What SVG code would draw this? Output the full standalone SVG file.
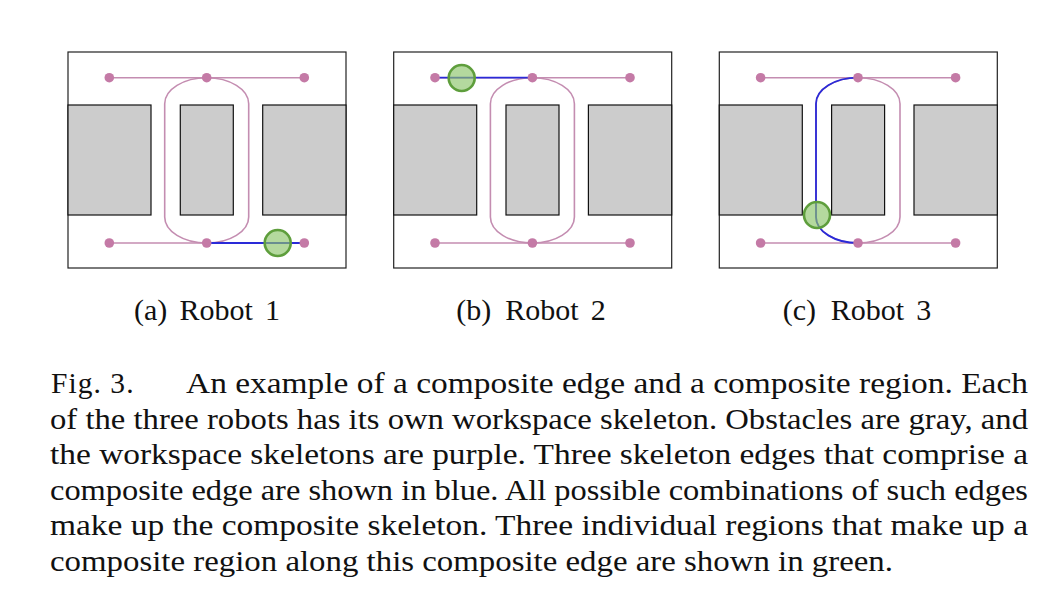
<svg xmlns="http://www.w3.org/2000/svg" xmlns:xlink="http://www.w3.org/1999/xlink" width="1060" height="612" viewBox="0 0 1060 612">
<style>
.frame{fill:#ffffff;stroke:#222222;stroke-width:1.2}
.obs{fill:#cccccc;stroke:#111111;stroke-width:1.2}
.edge{fill:none;stroke:#c48db1;stroke-width:1.6}
.blue{fill:none;stroke:#2a2ad8;stroke-width:1.8}
.dot{fill:#c47aa6}
.region{fill:#8cc46a;fill-opacity:0.65;stroke:#5e9e3c;stroke-width:2.6}
.cap{font-family:'Liberation Serif',serif;font-size:29.5px;fill:#111111}
.sub{font-family:'Liberation Serif',serif;font-size:30px;fill:#111111}
</style>
<defs>
<g id="base">
<rect class="frame" x="68" y="52" width="278" height="216"/>
<rect class="obs" x="68" y="105" width="83" height="110"/>
<rect class="obs" x="180.3" y="105" width="53" height="110"/>
<rect class="obs" x="262.7" y="105" width="83.3" height="110"/>
</g>
<g id="skel">
<path class="edge" d="M109.3,77.7 L304.3,77.7"/>
<path class="edge" d="M109.3,243 L304.3,243"/>
<path class="edge" d="M206.7,77.7 A42,26 0 0 0 164.7,103.7 L164.7,217 A42,26 0 0 0 206.7,243 A42,26 0 0 0 248.7,217 L248.7,103.7 A42,26 0 0 0 206.7,77.7 Z"/>
</g>
<g id="dots">
<circle class="dot" cx="109.3" cy="77.7" r="4.8"/>
<circle class="dot" cx="206.7" cy="77.7" r="4.8"/>
<circle class="dot" cx="304.3" cy="77.7" r="4.8"/>
<circle class="dot" cx="109.3" cy="243" r="4.8"/>
<circle class="dot" cx="206.7" cy="243" r="4.8"/>
<circle class="dot" cx="304.3" cy="243" r="4.8"/>
</g>
</defs>
<rect width="1060" height="612" fill="#ffffff"/>

<g id="panel-a">
<use xlink:href="#base"/>
<g id="connectors-a">
<use xlink:href="#skel"/>
<path class="blue" d="M206.7,243 L304.3,243"/>
</g>
<g id="nodes-a"><use xlink:href="#dots"/></g>
<g id="region-a"><circle class="region" cx="277.7" cy="243" r="13"/></g>
<text class="sub" y="320"><tspan x="134">(a)</tspan><tspan x="179.5">Robot</tspan><tspan x="265">1</tspan></text>
</g>

<g id="panel-b" transform="translate(325.7,0)">
<use xlink:href="#base"/>
<g id="connectors-b">
<use xlink:href="#skel"/>
<path class="blue" d="M109.3,77.7 L206.7,77.7"/>
</g>
<g id="nodes-b"><use xlink:href="#dots"/></g>
<g id="region-b"><circle class="region" cx="136" cy="78" r="13"/></g>
<text class="sub" y="320"><tspan x="130.5">(b)</tspan><tspan x="179.5">Robot</tspan><tspan x="265">2</tspan></text>
</g>

<g id="panel-c" transform="translate(651.3,0)">
<use xlink:href="#base"/>
<g id="connectors-c">
<use xlink:href="#skel"/>
<path class="blue" d="M206.7,77.7 A42,26 0 0 0 164.7,103.7 L164.7,217 A42,26 0 0 0 206.7,243"/>
</g>
<g id="nodes-c"><use xlink:href="#dots"/></g>
<g id="region-c"><circle class="region" cx="165.7" cy="215" r="13"/></g>
<text class="sub" y="320"><tspan x="131.5">(c)</tspan><tspan x="179.5">Robot</tspan><tspan x="265">3</tspan></text>
</g>

<g id="caption">
<text class="cap" x="51" y="393" textLength="82.5" lengthAdjust="spacing">Fig. 3.</text>
<text class="cap" x="186" y="393" textLength="842" lengthAdjust="spacingAndGlyphs">An example of a composite edge and a composite region. Each</text>
<text class="cap" x="50" y="428.5" textLength="978" lengthAdjust="spacingAndGlyphs">of the three robots has its own workspace skeleton. Obstacles are gray, and</text>
<text class="cap" x="50" y="464" textLength="978" lengthAdjust="spacingAndGlyphs">the workspace skeletons are purple. Three skeleton edges that comprise a</text>
<text class="cap" x="50" y="499.5" textLength="978" lengthAdjust="spacingAndGlyphs">composite edge are shown in blue. All possible combinations of such edges</text>
<text class="cap" x="50" y="535" textLength="978" lengthAdjust="spacingAndGlyphs">make up the composite skeleton. Three individual regions that make up a</text>
<text class="cap" x="50" y="570.5" textLength="843" lengthAdjust="spacingAndGlyphs">composite region along this composite edge are shown in green.</text>
</g>
</svg>
